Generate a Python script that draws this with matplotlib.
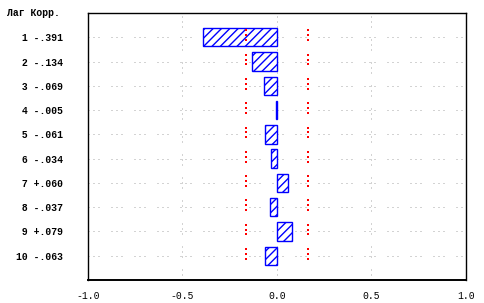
import matplotlib
matplotlib.use("Agg")
import matplotlib.pyplot as plt
import numpy as np

# autocorrelation by lag
lags = [1, 2, 3, 4, 5, 6, 7, 8, 9, 10]
corr = [-0.391, -0.134, -0.069, -0.005, -0.061, -0.034, 0.060, -0.037, 0.079, -0.063]
corr_txt = ['-.391', '-.134', '-.069', '-.005', '-.061', '-.034', '+.060', '-.037', '+.079', '-.063']
conf = [0.164] * 10          # +/- confidence limits per lag
xticks = [-1.0, -0.5, 0.0, 0.5, 1.0]
xtick_labels = ['-1.0', '-0.5', '0.0', '0.5', '1.0']

plt.rcParams['lines.scale_dashes'] = False
plt.rcParams['hatch.linewidth'] = 1.0
mono = 'Liberation Mono'

fig = plt.figure(figsize=(4.85, 3.03), dpi=100)
ax = fig.add_axes([88 / 485, 1 - 280 / 303, 378 / 485, 267 / 303])

px = 0.72
grid_dash = (0, (px, 4 * px, px, 4 * px, px, 12 * px))
for y in lags:
    ax.axhline(y, color='#a8a8a8', lw=px, linestyle=grid_dash, zorder=1)
for x in [-0.5, 0.0, 0.5]:
    ax.axvline(x, color='#a8a8a8', lw=px, linestyle=grid_dash, zorder=1)

ax.barh(lags, corr, height=0.76, color='white', edgecolor='#0000ff',
        hatch='////', linewidth=1.0, zorder=2)

# red confidence marks
for i, c in zip(lags, conf):
    ys = np.array([i - 0.28, i - 0.08, i + 0.12])
    ax.scatter([-c] * 3, ys, marker='s', s=0.8, color='#ff0000', lw=0, zorder=3)
    ax.scatter([c] * 3, ys, marker='s', s=0.8, color='#ff0000', lw=0, zorder=3)

ax.set_xlim(-1, 1)
ax.set_ylim(11, 0)
ax.set_xticks(xticks)
ax.set_xticklabels(xtick_labels, family=mono, fontsize=7)
ax.set_yticks(lags)
ax.set_yticklabels([f'{l:>2d} {t}' for l, t in zip(lags, corr_txt)],
                   family=mono, fontsize=7, weight='bold')
ax.tick_params(axis='y', length=0, pad=18)
ax.tick_params(axis='x', length=0, pad=8)
for s in ax.spines.values():
    s.set_linewidth(1.0)
    s.set_color('black')
ax.spines['bottom'].set_linewidth(1.4)

ax.text(-0.215, 0.0, 'Лаг Корр.', transform=ax.get_yaxis_transform(),
        family=mono, fontsize=7, weight='bold', ha='left', va='center')

fig.savefig('out.png', dpi=100)
